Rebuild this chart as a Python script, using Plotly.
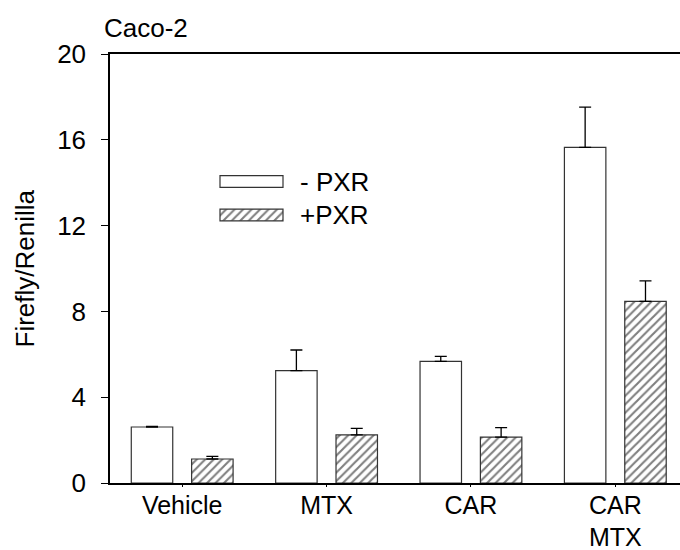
import plotly.graph_objects as go

# Treatment groups and reporter activity (Firefly/Renilla ratio)
groups = ["Vehicle", "MTX", "CAR", "CAR<br>MTX"]
minus_pxr = [2.61, 5.24, 5.67, 15.65]
minus_pxr_err = [0.03, 0.96, 0.23, 1.87]
plus_pxr = [1.12, 2.24, 2.14, 8.47]
plus_pxr_err = [0.12, 0.31, 0.44, 0.95]
y_ticks = [0, 4, 8, 12, 16, 20]
series_names = ["- PXR", "+PXR"]

FONT = "Liberation Sans, Arial, Helvetica, sans-serif"
EDGE = "#333333"
TXT = 26
hatch = dict(shape="/", size=6, solidity=0.35, fgcolor="black", bgcolor="white")

fig = go.Figure()

fig.add_trace(go.Bar(
    x=groups, y=minus_pxr, name=series_names[0],
    marker=dict(color="white", line=dict(color=EDGE, width=1.2)),
    error_y=dict(type="data", symmetric=False, array=minus_pxr_err,
                 arrayminus=[0] * len(minus_pxr_err),
                 color="black", thickness=1.3, width=6),
    showlegend=False,
))
fig.add_trace(go.Bar(
    x=groups, y=plus_pxr, name=series_names[1],
    marker=dict(color="white", pattern=hatch, line=dict(color=EDGE, width=1.2)),
    error_y=dict(type="data", symmetric=False, array=plus_pxr_err,
                 arrayminus=[0] * len(plus_pxr_err),
                 color="black", thickness=1.3, width=6),
    showlegend=False,
))

# Legend swatches drawn on a pixel-scaled overlay axis so they can be wide boxes
swatch_left, swatch_len, swatch_h = 220, 63, 11.6
swatch_rows = [181.5, 215.0]
fig.add_trace(go.Bar(
    x=[swatch_len], y=[swatch_rows[0]], base=[swatch_left], orientation="h",
    width=swatch_h, xaxis="x2", yaxis="y2",
    marker=dict(color="white", line=dict(color=EDGE, width=1.2)),
    showlegend=False, hoverinfo="skip",
))
fig.add_trace(go.Bar(
    x=[swatch_len], y=[swatch_rows[1]], base=[swatch_left], orientation="h",
    width=swatch_h, xaxis="x2", yaxis="y2",
    marker=dict(color="white", pattern=hatch, line=dict(color=EDGE, width=1.2)),
    showlegend=False, hoverinfo="skip",
))
for name, row in zip(series_names, swatch_rows):
    fig.add_annotation(x=298, y=row, xref="x2", yref="y2", text=name,
                       showarrow=False, xanchor="left", yanchor="middle",
                       font=dict(family=FONT, size=TXT, color="black"))

# Panel title and y-axis title
fig.add_annotation(x=-8 / 570, y=1 + 26 / 429, xref="paper", yref="paper",
                   text="Caco-2", showarrow=False, xanchor="left",
                   yanchor="middle",
                   font=dict(family=FONT, size=TXT, color="black"))
fig.add_annotation(x=-86 / 570, y=0.5, xref="paper", yref="paper",
                   text="Firefly/Renilla", textangle=-90, showarrow=False,
                   xanchor="center", yanchor="middle",
                   font=dict(family=FONT, size=TXT, color="black"))

fig.update_layout(
    width=680, height=550,
    margin=dict(l=110, r=0, t=54, b=67, autoexpand=False),
    paper_bgcolor="white", plot_bgcolor="white",
    barmode="group", bargap=0.164, bargroupgap=0.313,
    font=dict(family=FONT, size=TXT, color="black"),
    xaxis=dict(
        range=[-0.5, 3.448], showline=True, linecolor="black", linewidth=1.6,
        ticks="outside", ticklen=2, tickcolor="black", tickwidth=1,
        showgrid=False, zeroline=False, fixedrange=True, automargin=False,
        ticklabelstandoff=-3,
        tickfont=dict(family=FONT, size=25, color="black"),
    ),
    yaxis=dict(
        range=[0, 20], tickvals=y_ticks, showline=True, linecolor="black",
        linewidth=1.5, ticks="outside", ticklen=7, tickcolor="black",
        tickwidth=1.2, showgrid=False, zeroline=False, fixedrange=True,
        ticklabelstandoff=10, automargin=False,
        tickfont=dict(family=FONT, size=TXT, color="black"),
    ),
    xaxis2=dict(overlaying="x", side="top", range=[110, 680], showline=True,
                linecolor="black", linewidth=1.6, showticklabels=False,
                ticks="", showgrid=False, zeroline=False, fixedrange=True),
    yaxis2=dict(overlaying="y", range=[483, 54], visible=False,
                showgrid=False, zeroline=False, fixedrange=True),
)

fig.write_html("out.html")
